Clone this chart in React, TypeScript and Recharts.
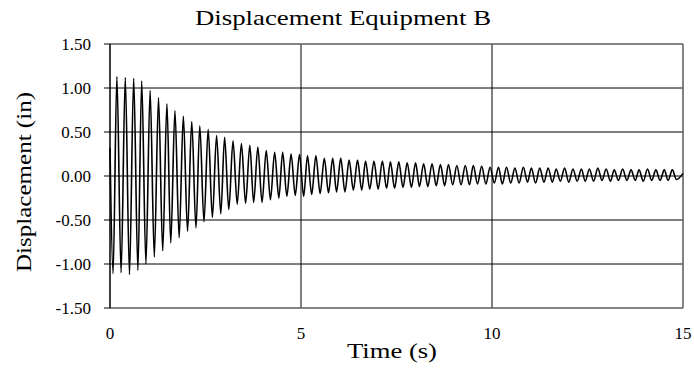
import { CartesianGrid, Line, LineChart, ReferenceLine, XAxis, YAxis } from "recharts";

// sample times (s) of the start, each trough/peak, and the end of the record
const time = [
  0,
  0.08, 0.18, 0.29, 0.4, 0.51, 0.62, 0.73, 0.83, 0.94, 1.05,
  1.16, 1.27, 1.38, 1.49, 1.59, 1.7, 1.81, 1.92, 2.03, 2.14,
  2.25, 2.35, 2.46, 2.57, 2.68, 2.79, 2.9, 3.0, 3.11, 3.22,
  3.33, 3.44, 3.55, 3.66, 3.76, 3.87, 3.98, 4.09, 4.2, 4.31,
  4.42, 4.52, 4.63, 4.74, 4.85, 4.96, 5.07, 5.17, 5.28, 5.39,
  5.5, 5.61, 5.72, 5.83, 5.93, 6.04, 6.15, 6.26, 6.37, 6.48,
  6.59, 6.69, 6.8, 6.91, 7.02, 7.13, 7.24, 7.34, 7.45, 7.56,
  7.67, 7.78, 7.89, 8.0, 8.1, 8.21, 8.32, 8.43, 8.54, 8.65,
  8.76, 8.86, 8.97, 9.08, 9.19, 9.3, 9.41, 9.51, 9.62, 9.73,
  9.84, 9.95, 10.06, 10.17, 10.27, 10.38, 10.49, 10.6, 10.71, 10.82,
  10.93, 11.03, 11.14, 11.25, 11.36, 11.47, 11.58, 11.68, 11.79, 11.9,
  12.01, 12.12, 12.23, 12.34, 12.44, 12.55, 12.66, 12.77, 12.88, 12.99,
  13.1, 13.2, 13.31, 13.42, 13.53, 13.64, 13.75, 13.85, 13.96, 14.07,
  14.18, 14.29, 14.4, 14.51, 14.61, 14.72, 14.83,
  15.0,
];

// displacement (in) at those times: trough, peak, trough, peak ...
const displacement = [
  0.32,
  -1.11, 1.13, -1.1, 1.12, -1.12, 1.11, -1.07, 1.08, -1.0, 0.97,
  -0.92, 0.89, -0.85, 0.82, -0.76, 0.74, -0.7, 0.68, -0.63, 0.62,
  -0.59, 0.57, -0.52, 0.53, -0.47, 0.46, -0.43, 0.44, -0.38, 0.4,
  -0.32, 0.37, -0.31, 0.35, -0.3, 0.33, -0.3, 0.29, -0.27, 0.27,
  -0.25, 0.27, -0.23, 0.25, -0.22, 0.245, -0.23, 0.23, -0.21, 0.23,
  -0.2, 0.2, -0.19, 0.2, -0.18, 0.2, -0.18, 0.18, -0.16, 0.18,
  -0.16, 0.17, -0.15, 0.17, -0.15, 0.17, -0.14, 0.16, -0.14, 0.16,
  -0.13, 0.15, -0.13, 0.15, -0.12, 0.14, -0.12, 0.14, -0.11, 0.13,
  -0.11, 0.13, -0.1, 0.12, -0.1, 0.12, -0.1, 0.12, -0.09, 0.11,
  -0.09, 0.1, -0.08, 0.1, -0.09, 0.1, -0.08, 0.09, -0.08, 0.1,
  -0.07, 0.09, -0.08, 0.09, -0.07, 0.09, -0.07, 0.08, -0.06, 0.09,
  -0.07, 0.08, -0.06, 0.08, -0.06, 0.08, -0.06, 0.09, -0.05, 0.08,
  -0.06, 0.07, -0.05, 0.08, -0.05, 0.07, -0.05, 0.07, -0.06, 0.08,
  -0.05, 0.07, -0.05, 0.07, -0.05, 0.07, -0.04,
  0.03,
];

const xTicks = [0, 5, 10, 15];
const yTicks = [-1.5, -1.0, -0.5, 0, 0.5, 1.0, 1.5];

const FONT = "'Liberation Serif', 'Times New Roman', serif";

const data = time.map((t, i) => ({ t, y: displacement[i] }));

function YTick({ x, y, payload }: any) {
  return (
    <text x={x} y={y} dy="0.36em" textAnchor="end" fontSize={17} fontFamily={FONT} fill="#000">
      {Number(payload.value).toFixed(2)}
    </text>
  );
}

function XTick({ x, y, payload }: any) {
  return (
    <text x={x} y={y + 31} textAnchor="middle" fontSize={17} fontFamily={FONT} fill="#000">
      {payload.value}
    </text>
  );
}

export default function App() {
  return (
    <div style={{ position: "absolute", left: 0, top: 0, width: 694, height: 371, background: "#fff" }}>
      <LineChart width={694} height={371} data={data} margin={{ top: 44, right: 11, bottom: 0, left: 0 }}>
        <CartesianGrid stroke="#000" />
        <XAxis
          dataKey="t"
          type="number"
          domain={[0, 15]}
          ticks={xTicks}
          height={63}
          tickLine={false}
          tickSize={0}
          tickMargin={0}
          axisLine={{ stroke: "#888" }}
          tick={<XTick />}
        />
        <YAxis
          type="number"
          domain={[-1.5, 1.5]}
          ticks={yTicks}
          width={110}
          tickSize={6}
          tickMargin={13}
          axisLine={{ stroke: "#000" }}
          tickLine={{ stroke: "#000" }}
          tick={<YTick />}
        />
        <ReferenceLine y={1.5} stroke="#888" />
        <ReferenceLine x={15} stroke="#888" />
        <Line
          type="monotone"
          dataKey="y"
          stroke="#000"
          strokeWidth={1.6}
          dot={false}
          isAnimationActive={false}
        />
      </LineChart>
      <svg
        width={694}
        height={371}
        style={{ position: "absolute", left: 0, top: 0, pointerEvents: "none" }}
      >
        <text x={343} y={25} textAnchor="middle" fontSize={21} fontFamily={FONT} textLength={296} lengthAdjust="spacingAndGlyphs">
          Displacement  Equipment B
        </text>
        <text
          transform="translate(31,182) rotate(-90)"
          textAnchor="middle"
          fontSize={22}
          fontFamily={FONT}
          textLength={180}
          lengthAdjust="spacingAndGlyphs"
        >
          Displacement (in)
        </text>
        <text x={392} y={358} textAnchor="middle" fontSize={21} fontFamily={FONT} textLength={90} lengthAdjust="spacingAndGlyphs">
          Time (s)
        </text>
      </svg>
    </div>
  );
}
